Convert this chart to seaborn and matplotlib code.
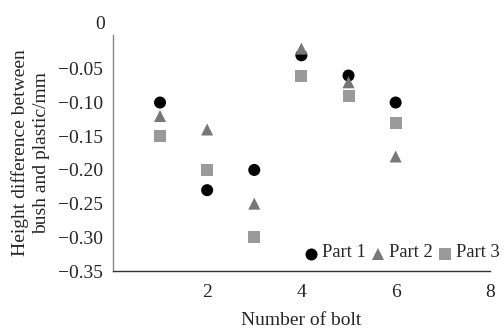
import matplotlib
matplotlib.use("Agg")
import matplotlib.pyplot as plt
import seaborn as sns
import pandas as pd

bolts = [1, 2, 3, 4, 5, 6]
part1 = [-0.10, -0.23, -0.20, -0.03, -0.06, -0.10]
part2 = [-0.12, -0.14, -0.25, -0.02, -0.07, -0.18]
part3 = [-0.15, -0.20, -0.30, -0.06, -0.09, -0.13]
series_names = ["Part 1", "Part 2", "Part 3"]
xticks = [2, 4, 6, 8]
yticks = [0, -0.05, -0.10, -0.15, -0.20, -0.25, -0.30, -0.35]
ytick_labels = ["", "\u22120.05", "\u22120.10", "\u22120.15", "\u22120.20", "\u22120.25", "\u22120.30", "\u22120.35"]

df = pd.DataFrame({
    "bolt": bolts * 3,
    "value": part1 + part2 + part3,
    "part": [series_names[0]] * 6 + [series_names[1]] * 6 + [series_names[2]] * 6,
})

sns.set_style("white")
plt.rcParams["font.family"] = ["Liberation Serif", "DejaVu Serif"]

fig = plt.figure(figsize=(5.04, 3.31), dpi=100)
ax = fig.add_axes([0.224, 0.181, 0.748, 0.713])

palette = {"Part 1": "#000000", "Part 2": "#777777", "Part 3": "#9a9a9a"}
markers = {"Part 1": "o", "Part 2": "^", "Part 3": "s"}
sns.scatterplot(data=df, x="bolt", y="value", hue="part", style="part",
                palette=palette, markers=markers, s=75, linewidth=0,
                ax=ax, legend=True, zorder=3)

ax.set_xlim(0, 8)
ax.set_ylim(-0.35, 0)
ax.set_xticks(xticks)
ax.set_yticks(yticks)
ax.set_yticklabels(ytick_labels)
ax.tick_params(axis="x", direction="in", length=4, width=0.8, color="#555555",
               labelsize=14, pad=9)
ax.tick_params(axis="y", length=0, labelsize=14, pad=7)
# the zero label sits a little above the top of the axis in the reference
ax.text(-0.17, 0.016, "0", ha="right", va="center", fontsize=14)

for side in ["top", "right"]:
    ax.spines[side].set_visible(False)
ax.spines["left"].set_color("#888888")
ax.spines["bottom"].set_color("#333333")
ax.spines["left"].set_linewidth(1.0)
ax.spines["bottom"].set_linewidth(1.0)

ax.set_xlabel("Number of bolt", fontsize=14, labelpad=8)
ax.set_ylabel("Height difference between\nbush and plastic/mm", fontsize=14,
              linespacing=1.25, labelpad=6)

handles, labels = ax.get_legend_handles_labels()
leg = ax.legend(handles, labels, ncol=3, loc="lower right",
                bbox_to_anchor=(1.055, -0.02), frameon=False, fontsize=13.3,
                handletextpad=0.1, columnspacing=0.15, markerscale=1.0,
                handlelength=1.0, borderaxespad=0.2)
for t in leg.get_texts():
    t.set_va("bottom")

fig.savefig("out.png", dpi=100)
